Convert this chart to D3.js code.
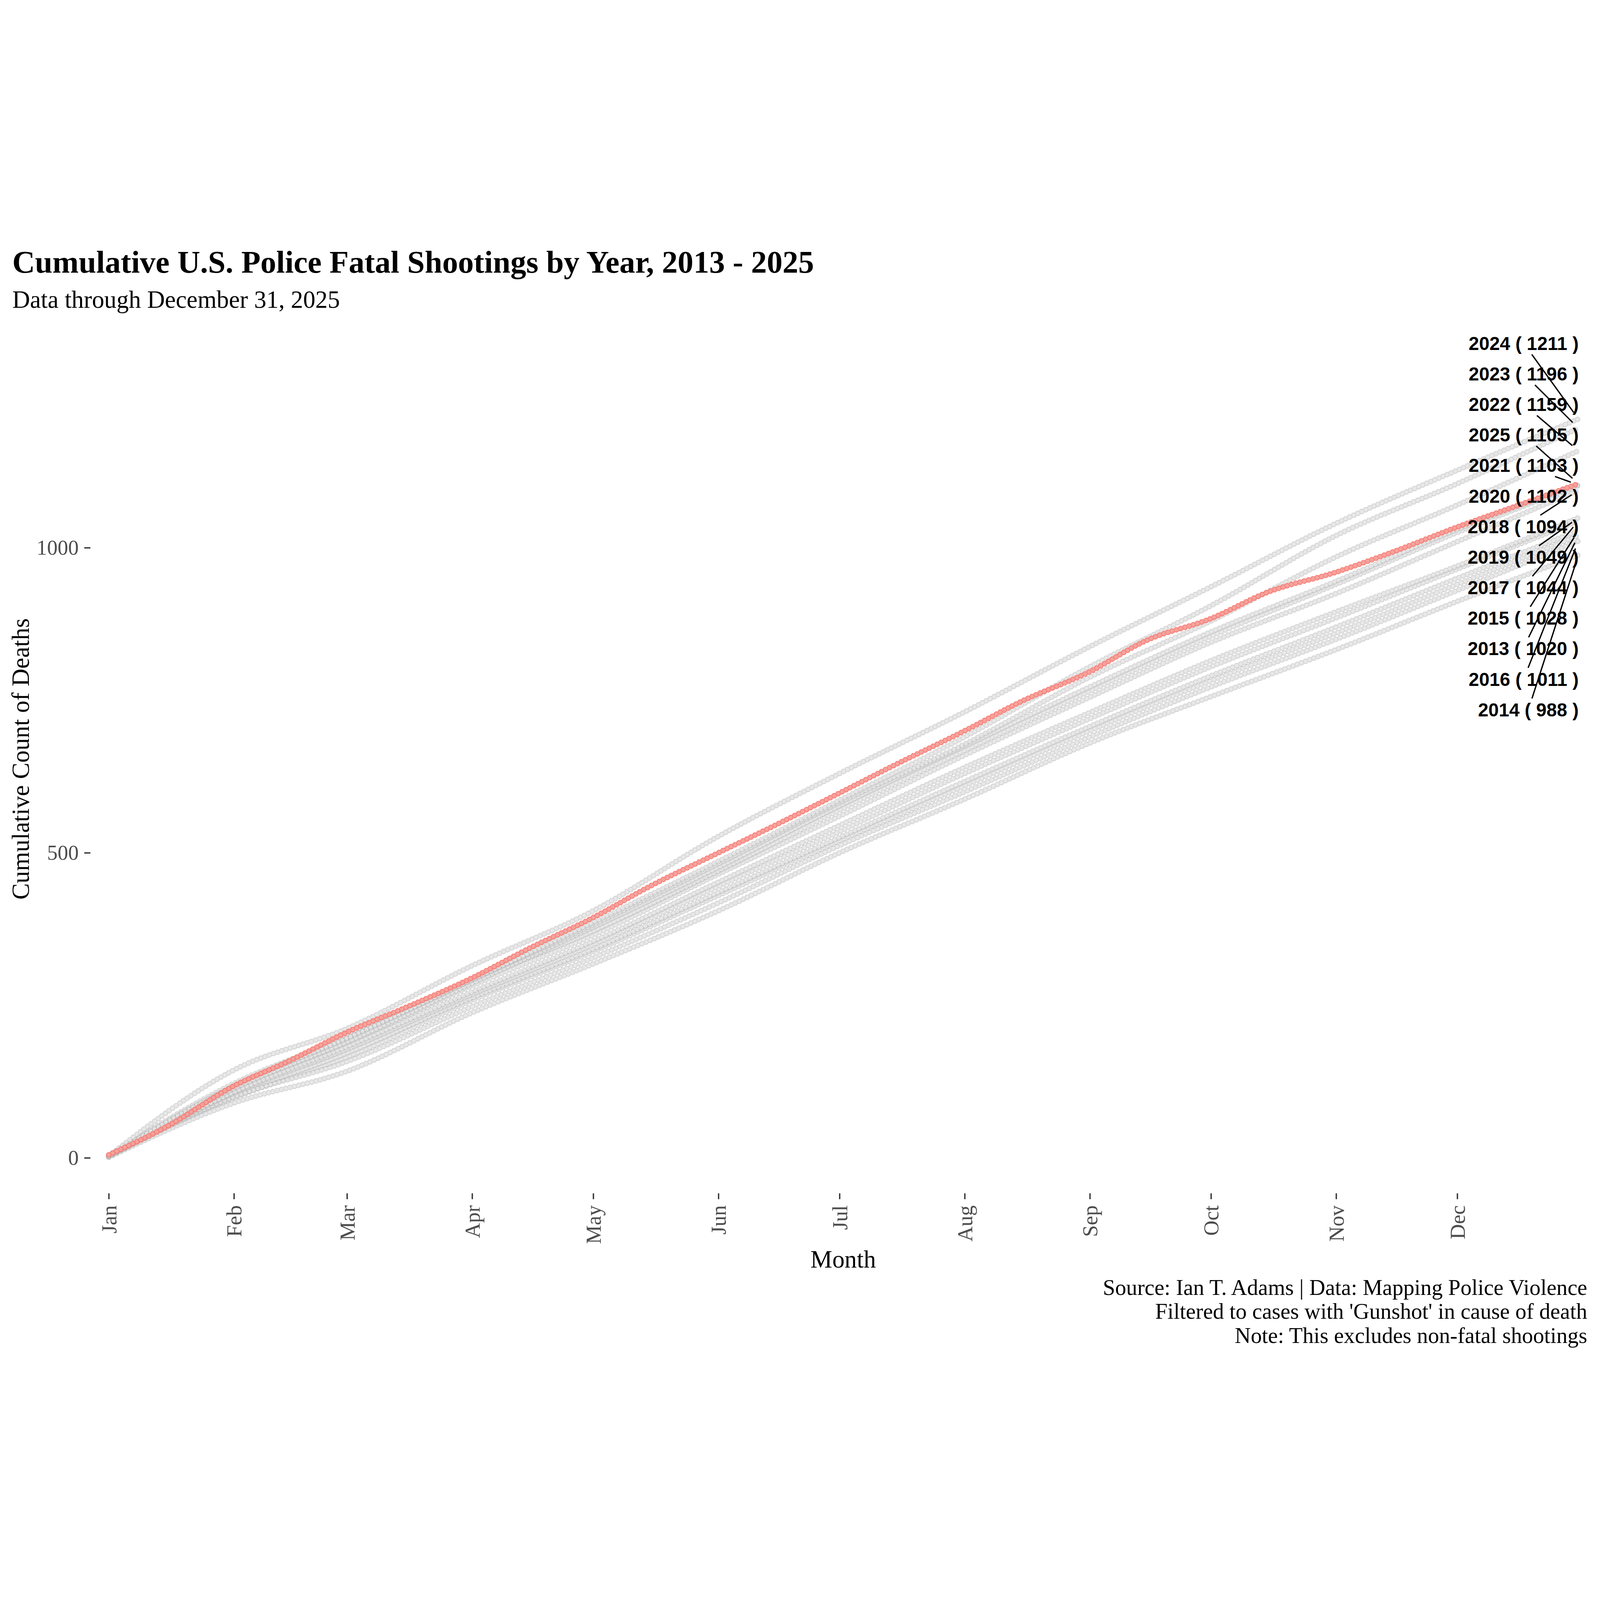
<!DOCTYPE html>
<html>
<head>
<meta charset="utf-8">
<script src="https://cdn.jsdelivr.net/npm/d3@7"></script>
<style>
  html, body { margin: 0; padding: 0; background: #ffffff; overflow: hidden; }
  svg { display: block; width: 100vw; height: 100vh; }
</style>
</head>
<body>
<svg id="chart" viewBox="0 0 6000 4200" preserveAspectRatio="xMidYMid meet"></svg>
<script>

/// Data

var years = [2013, 2014, 2015, 2016, 2017, 2018, 2019, 2020, 2021, 2022, 2023, 2024, 2025];
var highlightYear = 2025;

// checkpoints on a common calendar (all years drawn on the 2025 calendar)
var monthStarts = ["2025-01-01", "2025-02-01", "2025-03-01", "2025-04-01", "2025-05-01", "2025-06-01",
  "2025-07-01", "2025-08-01", "2025-09-01", "2025-10-01", "2025-11-01", "2025-12-01", "2025-12-31"];
var halfMonths = ["2025-01-01", "2025-01-15", "2025-02-01", "2025-02-15", "2025-03-01", "2025-03-15",
  "2025-04-01", "2025-04-15", "2025-05-01", "2025-05-15", "2025-06-01", "2025-06-15", "2025-07-01",
  "2025-07-15", "2025-08-01", "2025-08-15", "2025-09-01", "2025-09-15", "2025-10-01", "2025-10-15",
  "2025-11-01", "2025-11-15", "2025-12-01", "2025-12-15", "2025-12-31"];

// cumulative deaths at each checkpoint
var cum2013 = [2, 98, 165, 258, 338, 430, 520, 610, 700, 782, 860, 940, 1020];
var cum2014 = [1, 90, 142, 238, 318, 405, 500, 588, 680, 756, 833, 912, 988];
var cum2015 = [2, 102, 172, 262, 342, 435, 525, 617, 707, 790, 870, 950, 1028];
var cum2016 = [3, 100, 158, 248, 328, 418, 512, 600, 690, 772, 850, 930, 1011];
var cum2017 = [3, 106, 178, 268, 350, 445, 535, 630, 720, 805, 885, 965, 1044];
var cum2018 = [3, 112, 188, 282, 365, 465, 560, 660, 755, 845, 925, 1010, 1094];
var cum2019 = [2, 108, 182, 272, 355, 452, 545, 640, 730, 815, 895, 970, 1049];
var cum2020 = [3, 118, 196, 290, 372, 470, 570, 668, 765, 855, 940, 1025, 1102];
var cum2021 = [2, 114, 190, 286, 378, 476, 577, 675, 772, 862, 945, 1030, 1103];
var cum2022 = [4, 122, 198, 292, 382, 482, 582, 678, 788, 880, 985, 1070, 1159];
var cum2023 = [3, 118, 196, 292, 386, 486, 586, 690, 805, 905, 1020, 1105, 1196];
var cum2024 = [3, 144, 212, 315, 405, 527, 630, 731, 838, 936, 1040, 1127, 1211];
var cum2025 = [5, 50, 118, 160, 206, 245, 295, 343, 394, 445, 500, 545, 598, 645, 700, 748,
  797, 848, 884, 927, 960, 993, 1034, 1067, 1105];

var yTicks = [0, 500, 1000];

var titleText = "Cumulative U.S. Police Fatal Shootings by Year, 2013 - 2025";
var subtitleText = "Data through December 31, 2025";
var xTitle = "Month";
var yTitle = "Cumulative Count of Deaths";
var captionLines = ["Source: Ian T. Adams | Data: Mapping Police Violence",
  "Filtered to cases with 'Gunshot' in cause of death",
  "Note: This excludes non-fatal shootings"];

var valuesByYear = {
  2013: cum2013, 2014: cum2014, 2015: cum2015, 2016: cum2016, 2017: cum2017,
  2018: cum2018, 2019: cum2019, 2020: cum2020, 2021: cum2021, 2022: cum2022,
  2023: cum2023, 2024: cum2024, 2025: cum2025
};


/// Scales and helpers

var parse = d3.utcParse("%Y-%m-%d");
var serif = "'Liberation Serif', 'Times New Roman', serif";
var sans = "'Liberation Sans', Arial, sans-serif";

var x = d3.scaleUtc()
  .domain([parse("2025-01-01"), parse("2025-12-31")])
  .range([408, 5919]);

var y = d3.scaleLinear()
  .domain([0, 1000])
  .range([3442, 1154]);

var line = d3.line()
  .x(function(d){ return x(d.date); })
  .y(function(d){ return y(d.value); })
  .curve(d3.curveMonotoneX);

var series = years.map(function(yr){
  var dates = yr == highlightYear ? halfMonths : monthStarts;
  var vals = valuesByYear[yr];
  return {
    year: yr,
    points: dates.map(function(s, i){ return {date: parse(s), value: vals[i]}; })
  };
});

function lastPoint(s){ return s.points[s.points.length - 1]; }

var svg = d3.select("#chart");
svg.append("rect").attr("width", 6000).attr("height", 4200).attr("fill", "#ffffff");


/// Points: one dot per day along each year's path (dash pattern of round caps)

function drawDots(g, s, ring, ringOp, fill, fillOp){
  var d = line(s.points);
  g.append("path")
    .attr("d", d)
    .attr("fill", "none")
    .attr("stroke", ring)
    .attr("stroke-opacity", ringOp)
    .attr("stroke-width", 21)
    .attr("stroke-linecap", "round")
    .attr("stroke-dasharray", "0 16.6");
  g.append("path")
    .attr("d", d)
    .attr("fill", "none")
    .attr("stroke", fill)
    .attr("stroke-opacity", fillOp)
    .attr("stroke-width", 14)
    .attr("stroke-linecap", "round")
    .attr("stroke-dasharray", "0 16.6");
}

var pointsG = svg.append("g");
series.filter(function(s){ return s.year != highlightYear; }).forEach(function(s){
  drawDots(pointsG.append("g"), s, "#b7b7b7", 0.55, "#f4f4f4", 0.6);
});
series.filter(function(s){ return s.year == highlightYear; }).forEach(function(s){
  drawDots(pointsG.append("g"), s, "#F8766D", 0.9, "#F1B9B6", 0.6);
});


/// Axes

var xAxis = d3.axisBottom(x)
  .ticks(d3.utcMonth.every(1))
  .tickFormat(d3.utcFormat("%b"))
  .tickSize(22);

var xg = svg.append("g")
  .attr("transform", "translate(0,3575)")
  .call(xAxis);
xg.select(".domain").remove();
xg.selectAll(".tick line").attr("stroke", "#333333").attr("stroke-width", 5);
xg.selectAll(".tick text")
  .attr("transform", "rotate(-90)")
  .attr("x", -45)
  .attr("y", 0)
  .attr("dy", "0.35em")
  .attr("text-anchor", "end")
  .attr("fill", "#4d4d4d")
  .style("font-family", serif)
  .style("font-size", "79px");

var yAxis = d3.axisLeft(y)
  .tickValues(yTicks)
  .tickFormat(d3.format("d"))
  .tickSize(23)
  .tickPadding(21);

var yg = svg.append("g")
  .attr("transform", "translate(339,0)")
  .call(yAxis);
yg.select(".domain").remove();
yg.selectAll(".tick line").attr("stroke", "#333333").attr("stroke-width", 5);
yg.selectAll(".tick text")
  .attr("fill", "#4d4d4d")
  .style("font-family", serif)
  .style("font-size", "79px");


/// Year labels with leader segments (stacked like ggrepel did)

var ranked = series.slice().sort(function(a, b){ return lastPoint(b).value - lastPoint(a).value; });
var labelRight = 5920;
var labelTop = 387;
var labelStep = 114.5;

var segG = svg.append("g");
var labG = svg.append("g");

ranked.forEach(function(s, i){
  var end = lastPoint(s);
  var cy = labelTop + i * labelStep;
  var t = labG.append("text")
    .attr("x", labelRight)
    .attr("y", cy)
    .attr("dy", "0.36em")
    .attr("text-anchor", "end")
    .style("font-family", sans)
    .style("font-weight", "bold")
    .style("font-size", "70px")
    .attr("fill", "#000000")
    .text(s.year + " ( " + end.value + " )");

  // segment from the label box edge toward the year's last point
  var w = t.node().getComputedTextLength();
  var cx = labelRight - w / 2;
  var px = x(end.date), py = y(end.value);
  var dx = px - cx, dy = py - cy;
  var dist = Math.sqrt(dx * dx + dy * dy);
  var hw = w / 2 + 8, hh = 42;
  var k = Math.min(dx != 0 ? hw / Math.abs(dx) : Infinity, dy != 0 ? hh / Math.abs(dy) : Infinity);
  var startLen = k * dist;
  var endLen = dist - 30;
  if (endLen > startLen + 4) {
    segG.append("line")
      .attr("x1", cx + dx * startLen / dist)
      .attr("y1", cy + dy * startLen / dist)
      .attr("x2", cx + dx * endLen / dist)
      .attr("y2", cy + dy * endLen / dist)
      .attr("stroke", "#000000")
      .attr("stroke-width", 5);
  }
});


/// Titles and caption

svg.append("text")
  .attr("x", 46).attr("y", 122)
  .style("font-family", serif).style("font-weight", "bold").style("font-size", "118px")
  .text(titleText);

svg.append("text")
  .attr("x", 46).attr("y", 255)
  .style("font-family", serif).style("font-size", "92px")
  .text(subtitleText);

svg.append("text")
  .attr("x", 3162).attr("y", 3854)
  .attr("text-anchor", "middle")
  .style("font-family", serif).style("font-size", "92px")
  .text(xTitle);

svg.append("text")
  .attr("transform", "translate(108,1946) rotate(-90)")
  .attr("text-anchor", "middle")
  .style("font-family", serif).style("font-size", "92px")
  .text(yTitle);

svg.append("g").selectAll("text")
  .data(captionLines)
  .enter()
  .append("text")
  .attr("x", 5952)
  .attr("y", function(d, i){ return 3956 + i * 90; })
  .attr("text-anchor", "end")
  .style("font-family", serif).style("font-size", "83px")
  .text(function(d){ return d; });

</script>
</body>
</html>
